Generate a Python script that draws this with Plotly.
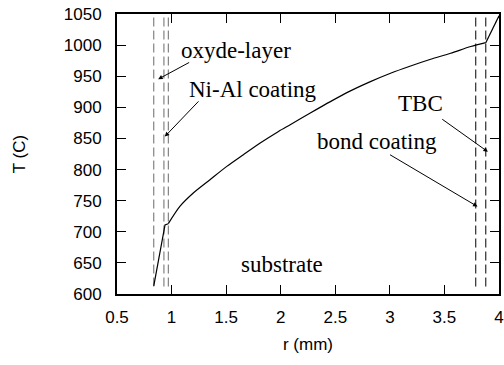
import plotly.graph_objects as go

# Temperature profile r (mm) vs T (C)
# steep parts through the oxide / Ni-Al layers and the TBC
r_oxide = [0.837, 0.94, 0.97]
T_oxide = [613, 711, 713]
r_sub = [0.97, 1.076, 1.199, 1.352, 1.506, 1.658, 1.812, 1.980, 2.087,
         2.271, 2.455, 2.639, 2.822, 3.006, 3.190, 3.374, 3.557, 3.741, 3.879]
T_sub = [713, 740.8, 762.3, 783.7, 805.1, 823.9, 842.7, 861.3, 872.1,
         890.9, 909.2, 926.4, 941.3, 954.8, 966.5, 977.3, 986.9, 997.7, 1003.9]
r_tbc = [3.879, 4.0]
T_tbc = [1003.9, 1047]

# Layer boundaries (dashed lines)
bound_left = [0.837, 0.93, 0.97]
bound_right = [3.787, 3.879]
bound_T = [612, 1050]

# Labels: text, x, y, arrow head (x, y), arrow tail (x, y)
labels = ["oxyde-layer", "Ni-Al coating", "TBC", "bond coating", "substrate"]
label_x = [1.586, 1.747, 3.282, 2.878, 2.011]
label_y = [992, 928, 906, 844.5, 647]
head_x = [0.877, 0.938, 3.898, 3.803]
head_y = [945.2, 853, 828.6, 740.6]
tail_x = [1.175, 1.260, 3.466, 2.988]
tail_y = [973.4, 912, 882.6, 825.2]

x_ticks = [0.5, 1, 1.5, 2, 2.5, 3, 3.5, 4]
y_ticks = [600, 650, 700, 750, 800, 850, 900, 950, 1000, 1050]

fig = go.Figure()

for xb in bound_left:
    fig.add_trace(go.Scatter(x=[xb, xb], y=bound_T, mode="lines",
                             line=dict(color="#6a6a6a", width=1, dash="9px,4px"),
                             showlegend=False, hoverinfo="skip"))
for xb in bound_right:
    fig.add_trace(go.Scatter(x=[xb, xb], y=bound_T, mode="lines",
                             line=dict(color="black", width=1, dash="9px,4px"),
                             showlegend=False, hoverinfo="skip"))

for rr, tt, shp in [(r_oxide, T_oxide, "linear"), (r_sub, T_sub, "spline"), (r_tbc, T_tbc, "linear")]:
    fig.add_trace(go.Scatter(x=rr, y=tt, mode="lines",
                             line=dict(color="black", width=1.2, shape=shp, smoothing=0.8),
                             showlegend=False, hoverinfo="skip"))

serif = dict(family="Liberation Serif", size=23, color="black")
for i, t in enumerate(labels):
    fig.add_annotation(x=label_x[i], y=label_y[i], text=t, showarrow=False,
                       xref="x", yref="y", font=serif, xanchor="center", yanchor="middle")
for i in range(len(head_x)):
    fig.add_annotation(x=head_x[i], y=head_y[i], ax=tail_x[i], ay=tail_y[i],
                       xref="x", yref="y", axref="x", ayref="y", text="",
                       showarrow=True, arrowhead=2, arrowsize=0.9, arrowwidth=1,
                       arrowcolor="black", standoff=0, startstandoff=0)

axis_common = dict(showgrid=False, zeroline=False, showline=True, linecolor="black",
                   linewidth=2, mirror="ticks", ticks="inside", ticklen=9, tickwidth=1,
                   tickcolor="black", automargin=False,
                   tickfont=dict(family="Liberation Sans", size=17, color="black"))

fig.update_layout(
    width=504, height=365,
    margin=dict(l=117, r=5, t=14, b=71),
    plot_bgcolor="white", paper_bgcolor="white",
    xaxis=dict(range=[0.5, 4], tickvals=x_ticks, ticktext=[f"{v:g}" for v in x_ticks],
               title=dict(text="r (mm)", font=dict(family="Liberation Sans", size=17, color="black"),
                          standoff=12),
               ticklabelstandoff=7, **axis_common),
    yaxis=dict(range=[600, 1050], tickvals=y_ticks, ticktext=[str(v) for v in y_ticks],
               title=dict(text="T (C)", font=dict(family="Liberation Sans", size=17, color="black"),
                          standoff=34),
               ticklabelstandoff=10, **axis_common),
)

fig.write_html("out.html")
